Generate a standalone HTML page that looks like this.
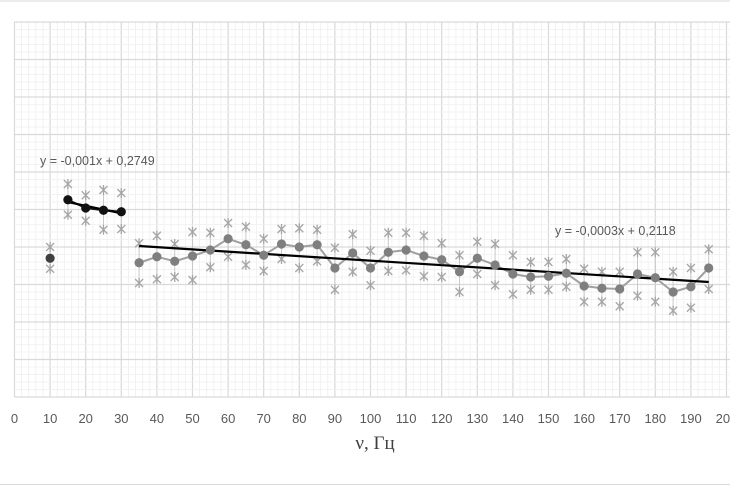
<!DOCTYPE html>
<html><head><meta charset="utf-8"><style>
html,body{margin:0;padding:0;background:#fff;}
svg{display:block;font-family:"Liberation Sans",sans-serif;}
</style></head><body>
<svg id="chart" width="730" height="486" viewBox="0 0 730 486">
<rect x="0" y="0" width="730" height="486" fill="#fff"/>
<line x1="0" y1="1" x2="730" y2="1" stroke="#d9d9d9"/>
<line x1="0" y1="484.5" x2="730" y2="484.5" stroke="#d9d9d9"/>
<g id="grid"></g>
<g id="ticks"></g>
<g id="marks"></g>
<text x="40" y="165" font-size="12.5" fill="#595959">y = -0,001x + 0,2749</text>
<text x="555" y="235" font-size="12.5" fill="#595959">y = -0,0003x + 0,2118</text>
<text x="375" y="449" font-size="19" fill="#404040" text-anchor="middle" font-family="Liberation Serif, serif">ν, Гц</text>
</svg>
<script>
const xs=[10,15,20,25,30,35,40,45,50,55,60,65,70,75,80,85,90,95,100,105,110,115,120,125,130,135,140,145,150,155,160,165,170,175,180,185,190,195];
const meanVals=[0.185,0.263,0.252,0.249,0.247,0.179,0.187,0.181,0.188,0.196,0.211,0.203,0.189,0.204,0.2,0.203,0.172,0.192,0.172,0.193,0.196,0.188,0.183,0.167,0.185,0.176,0.164,0.16,0.161,0.165,0.148,0.145,0.144,0.164,0.159,0.14,0.147,0.172];
const upperVals=[0.2,0.284,0.269,0.276,0.272,0.205,0.215,0.204,0.22,0.219,0.232,0.227,0.211,0.224,0.225,0.223,0.199,0.217,0.195,0.219,0.219,0.215,0.205,0.189,0.207,0.204,0.189,0.18,0.18,0.184,0.171,0.167,0.167,0.193,0.193,0.167,0.172,0.197];
const lowerVals=[0.171,0.243,0.235,0.223,0.224,0.152,0.157,0.16,0.156,0.173,0.187,0.176,0.168,0.184,0.172,0.181,0.143,0.167,0.149,0.168,0.169,0.161,0.16,0.14,0.164,0.149,0.137,0.143,0.143,0.147,0.127,0.127,0.121,0.135,0.127,0.115,0.119,0.144];
const xTicks=[0,10,20,30,40,50,60,70,80,90,100,110,120,130,140,150,160,170,180,190,200];
const trend1=[-0.001,0.2749,15,30];
const trend2=[-0.0003,0.2118,35,195];

const NS="http://www.w3.org/2000/svg";
const X=v=>14.5+v*3.56;
const Y=v=>397-v*750;
function mk(tag,attrs,parent){const e=document.createElementNS(NS,tag);for(const k in attrs)e.setAttribute(k,attrs[k]);parent.appendChild(e);return e;}
const grid=document.getElementById('grid'),ticks=document.getElementById('ticks'),marks=document.getElementById('marks');
for(let i=0;i<=100;i++){const x=X(i*2);const major=i%5===0;
 const l=mk('line',{x1:x,x2:x,y1:22,y2:397,stroke:major?'#d9d9d9':'#efefef','stroke-width':major?1.2:0.8},grid);
 
 }
for(let i=0;i<=50;i++){const y=397-i*7.5;const major=i%5===0;
 const l=mk('line',{x1:14.5,x2:730,y1:y,y2:y,stroke:major?'#d9d9d9':'#efefef','stroke-width':major?1.2:0.8},grid);
 
 }
xTicks.forEach(t=>{const e=mk('text',{x:X(t),y:423,'font-size':13,fill:'#595959','text-anchor':'middle'},ticks);e.textContent=t;
 
 });
// error bars and stars
xs.forEach((x,i)=>{const px=X(x);
 const b=mk('line',{x1:px,x2:px,y1:Y(upperVals[i]),y2:Y(lowerVals[i]),stroke:'#c8c8c8','stroke-width':1},marks);
 
 
 [upperVals[i],lowerVals[i]].forEach(v=>{const py=Y(v);
  const s=mk('path',{d:`M${px-4},${py-4}L${px+4},${py+4}M${px-4},${py+4}L${px+4},${py-4}M${px},${py-5}L${px},${py+5}`,stroke:'#a6a6a6','stroke-width':1.3,fill:'none'},marks);
  
  });});
// connecting lines
function series(from,to,color,name){let d='';for(let i=from;i<=to;i++)d+=(i===from?'M':'L')+X(xs[i])+','+Y(meanVals[i]);
 const p=mk('path',{d:d,stroke:color,'stroke-width':2,fill:'none'},marks);
 
 }
series(1,4,'#1a1a1a','series-1-line');
series(5,xs.length-1,'#a0a0a0','series-2-line');
// trendlines
[trend1,trend2].forEach((t,k)=>{const l=mk('line',{x1:X(t[2]),y1:Y(t[0]*t[2]+t[1]),x2:X(t[3]),y2:Y(t[0]*t[3]+t[1]),stroke:'#000','stroke-width':2.2},marks);
 
 });
xs.forEach((x,i)=>{const c=mk('circle',{cx:X(x),cy:Y(meanVals[i]),r:4.6,fill:i<5?(i===0?'#404040':'#111'):'#7f7f7f'},marks);
 
 });
</script>
</body></html>
